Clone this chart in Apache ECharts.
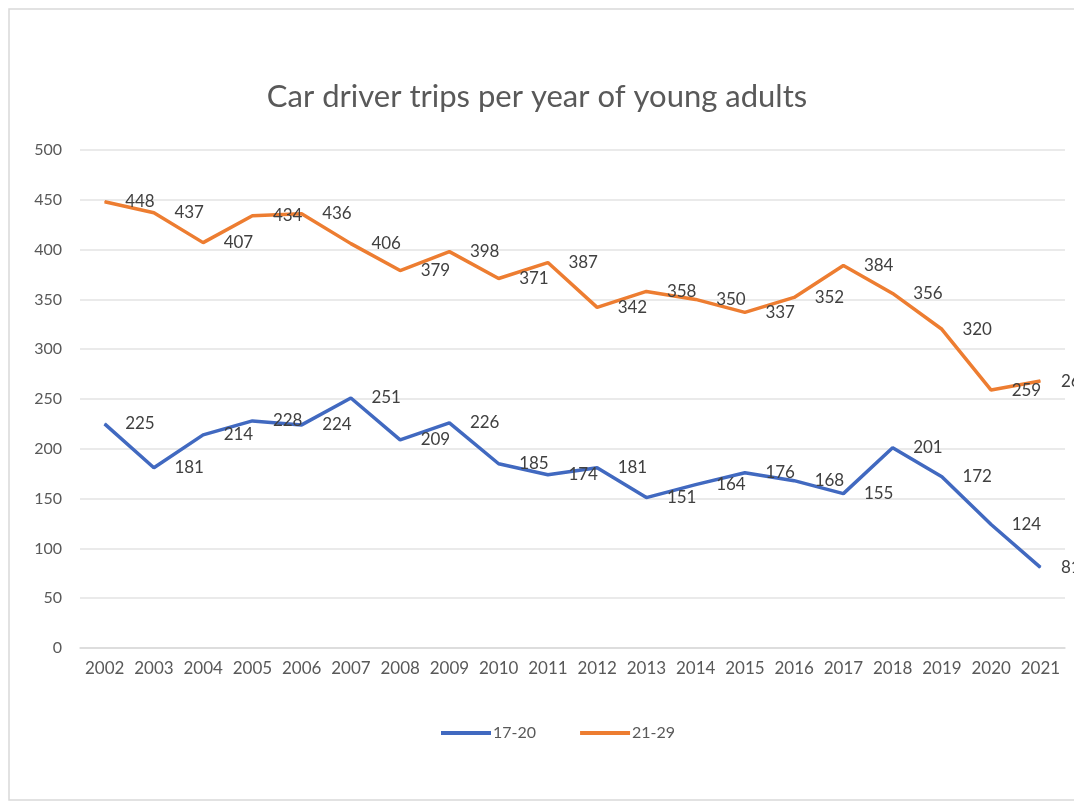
<!DOCTYPE html>
<html>
<head>
<meta charset="utf-8">
<script src="https://cdn.jsdelivr.net/npm/echarts@6/dist/echarts.min.js"></script>
<style>
html,body{margin:0;padding:0;background:#fff;}
#main{width:1074px;height:806px;}
</style>
</head>
<body>
<div id="main"></div>
<script>
const years = ['2002','2003','2004','2005','2006','2007','2008','2009','2010','2011','2012','2013','2014','2015','2016','2017','2018','2019','2020','2021'];
const age1720 = [225,181,214,228,224,251,209,226,185,174,181,151,164,176,168,155,201,172,124,81];
const age2129 = [448,437,407,434,436,406,379,398,371,387,342,358,350,337,352,384,356,320,259,268];
const yTicks = [0,50,100,150,200,250,300,350,400,450,500];

const FONT = 'Lato';
const chart = echarts.init(document.getElementById('main'));
const labelCfg = {
  show: true,
  position: 'right',
  distance: 20,
  color: '#404040',
  fontFamily: FONT,
  fontSize: 17
};
chart.setOption({
  backgroundColor: '#ffffff',
  animation: false,
  textStyle: { fontFamily: FONT },
  graphic: [{
    type: 'rect',
    shape: { x: 9, y: 9, width: 1100, height: 791 },
    style: { fill: 'none', stroke: '#d9d9d9', lineWidth: 1.5 },
    silent: true,
    z: -10
  }],
  title: {
    text: 'Car driver trips per year of young adults',
    left: 'center',
    top: 76,
    textStyle: { fontFamily: FONT, fontSize: 31, fontWeight: 'normal', color: '#595959' }
  },
  legend: {
    bottom: 60,
    left: 436,
    icon: 'rect',
    itemWidth: 50,
    itemHeight: 4,
    itemGap: 44,
    textStyle: { fontFamily: FONT, fontSize: 16, color: '#595959', padding: [0, 0, 0, -3] },
    data: ['17-20', '21-29']
  },
  grid: { left: 80, right: 9, top: 150, bottom: 158, containLabel: false },
  xAxis: {
    type: 'category',
    data: years,
    boundaryGap: true,
    axisLine: { show: true, lineStyle: { color: '#d9d9d9', width: 1.5 } },
    axisTick: { show: false },
    axisLabel: { color: '#595959', fontFamily: FONT, fontSize: 17, margin: 12, interval: 0 }
  },
  yAxis: {
    type: 'value',
    min: yTicks[0],
    max: yTicks[yTicks.length - 1],
    interval: 50,
    axisLine: { show: false },
    axisTick: { show: false },
    axisLabel: { color: '#595959', fontFamily: FONT, fontSize: 16, margin: 18 },
    splitLine: { lineStyle: { color: '#e3e3e3', width: 1.5 } }
  },
  series: [
    {
      name: '17-20',
      type: 'line',
      data: age1720,
      symbol: 'circle',
      symbolSize: 1,
      showSymbol: true,
      lineStyle: { color: '#4169C0', width: 3.5 },
      itemStyle: { color: '#4169C0' },
      label: labelCfg
    },
    {
      name: '21-29',
      type: 'line',
      data: age2129,
      symbol: 'circle',
      symbolSize: 1,
      showSymbol: true,
      lineStyle: { color: '#ED7D31', width: 3.5 },
      itemStyle: { color: '#ED7D31' },
      label: labelCfg
    }
  ]
});
</script>
</body>
</html>
